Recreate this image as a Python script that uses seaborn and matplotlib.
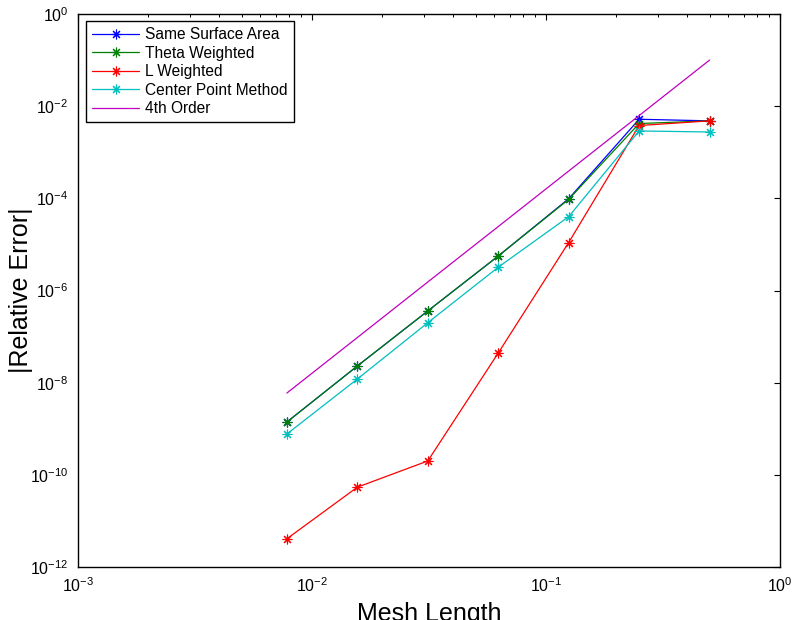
import numpy as np
import pandas as pd
import matplotlib
matplotlib.use("Agg")
import matplotlib.pyplot as plt
from matplotlib.ticker import LogLocator, LogFormatterSciNotation, NullFormatter, NullLocator
import seaborn as sns

# Mesh lengths (h = 1/128 ... 1/2)
mesh_length = [1/128, 1/64, 1/32, 1/16, 1/8, 1/4, 1/2]

# |Relative Error| for each scheme
same_surface_area = [1.4e-9, 2.3e-8, 3.6e-7, 5.6e-6, 9.8e-5, 5.2e-3, 4.8e-3]
theta_weighted    = [1.4e-9, 2.3e-8, 3.6e-7, 5.6e-6, 9.5e-5, 4.2e-3, 4.8e-3]
l_weighted        = [4.1e-12, 5.4e-11, 2.0e-10, 4.4e-8, 1.1e-5, 3.8e-3, 4.8e-3]
center_point      = [7.7e-10, 1.2e-8, 2.0e-7, 3.2e-6, 4.0e-5, 2.9e-3, 2.75e-3]
fourth_order      = [5.96e-9, 9.54e-8, 1.53e-6, 2.44e-5, 3.91e-4, 6.25e-3, 1.0e-1]

series_names = ["Same Surface Area", "Theta Weighted", "L Weighted",
                "Center Point Method", "4th Order"]
series_values = [same_surface_area, theta_weighted, l_weighted,
                 center_point, fourth_order]
series_colors = ["#0000ff", "#008000", "#ff0000", "#00bfbf", "#bf00bf"]
series_markers = [True, True, True, True, False]

x_ticks = [1e-3, 1e-2, 1e-1, 1e0]
y_ticks = [1e-12, 1e-10, 1e-8, 1e-6, 1e-4, 1e-2, 1e0]

sns.set_style("white")
plt.rcParams["font.family"] = ["Liberation Sans", "DejaVu Sans"]
plt.rcParams["mathtext.default"] = "regular"
plt.rcParams["text.color"] = "black"
plt.rcParams["axes.labelcolor"] = "black"
plt.rcParams["xtick.color"] = "black"
plt.rcParams["ytick.color"] = "black"

fig = plt.figure(figsize=(7.92, 6.20), dpi=100)
ax = fig.add_axes([78/792, 1 - 567/620, 702/792, 553/620])

# MATLAB-style asterisk: eight spokes (+ and x combined)
asterisk = (8, 2, 0)
for name, vals, col, mk in zip(series_names, series_values, series_colors, series_markers):
    df = pd.DataFrame({"h": mesh_length, "err": vals})
    kw = dict(marker=asterisk, markersize=7.0, markeredgewidth=0.8,
              markeredgecolor=col) if mk else dict(marker=None)
    sns.lineplot(data=df, x="h", y="err", ax=ax, color=col, linewidth=0.9,
                 label=name, estimator=None, sort=False, **kw)

ax.set_xscale("log")
ax.set_yscale("log")
ax.set_xlim(1e-3, 1e0)
ax.set_ylim(1e-12, 1e0)

ax.set_xticks(x_ticks)
ax.xaxis.set_minor_locator(LogLocator(base=10, subs=np.arange(2, 10), numticks=20))
ax.xaxis.set_minor_formatter(NullFormatter())
ax.set_yticks(y_ticks)
ax.yaxis.set_minor_locator(NullLocator())
ax.xaxis.set_major_formatter(LogFormatterSciNotation())
ax.yaxis.set_major_formatter(LogFormatterSciNotation())

ax.tick_params(which="both", direction="in", top=True, right=True,
               colors="black", labelcolor="black", labelsize=11.5)
ax.tick_params(which="major", length=4.5, width=0.8, pad=7)
ax.tick_params(which="minor", length=2.5, width=0.7)
for s in ax.spines.values():
    s.set_visible(True)
    s.set_color("black")
    s.set_linewidth(1.0)

ax.set_xlabel("Mesh Length", fontsize=18, labelpad=4.5, color="black")
ax.set_ylabel("|Relative Error|", fontsize=18, labelpad=-2.5, color="black")

leg = ax.legend(loc="upper left", bbox_to_anchor=(0.0114, 0.987),
                borderaxespad=0, fontsize=11.2, frameon=True, fancybox=False,
                framealpha=1, edgecolor="black", handlelength=3.0,
                labelspacing=0.22, borderpad=0.4, handletextpad=0.4)
leg.get_frame().set_linewidth(1.0)
for t in leg.get_texts():
    t.set_color("black")

fig.savefig("out.png", dpi=100)
